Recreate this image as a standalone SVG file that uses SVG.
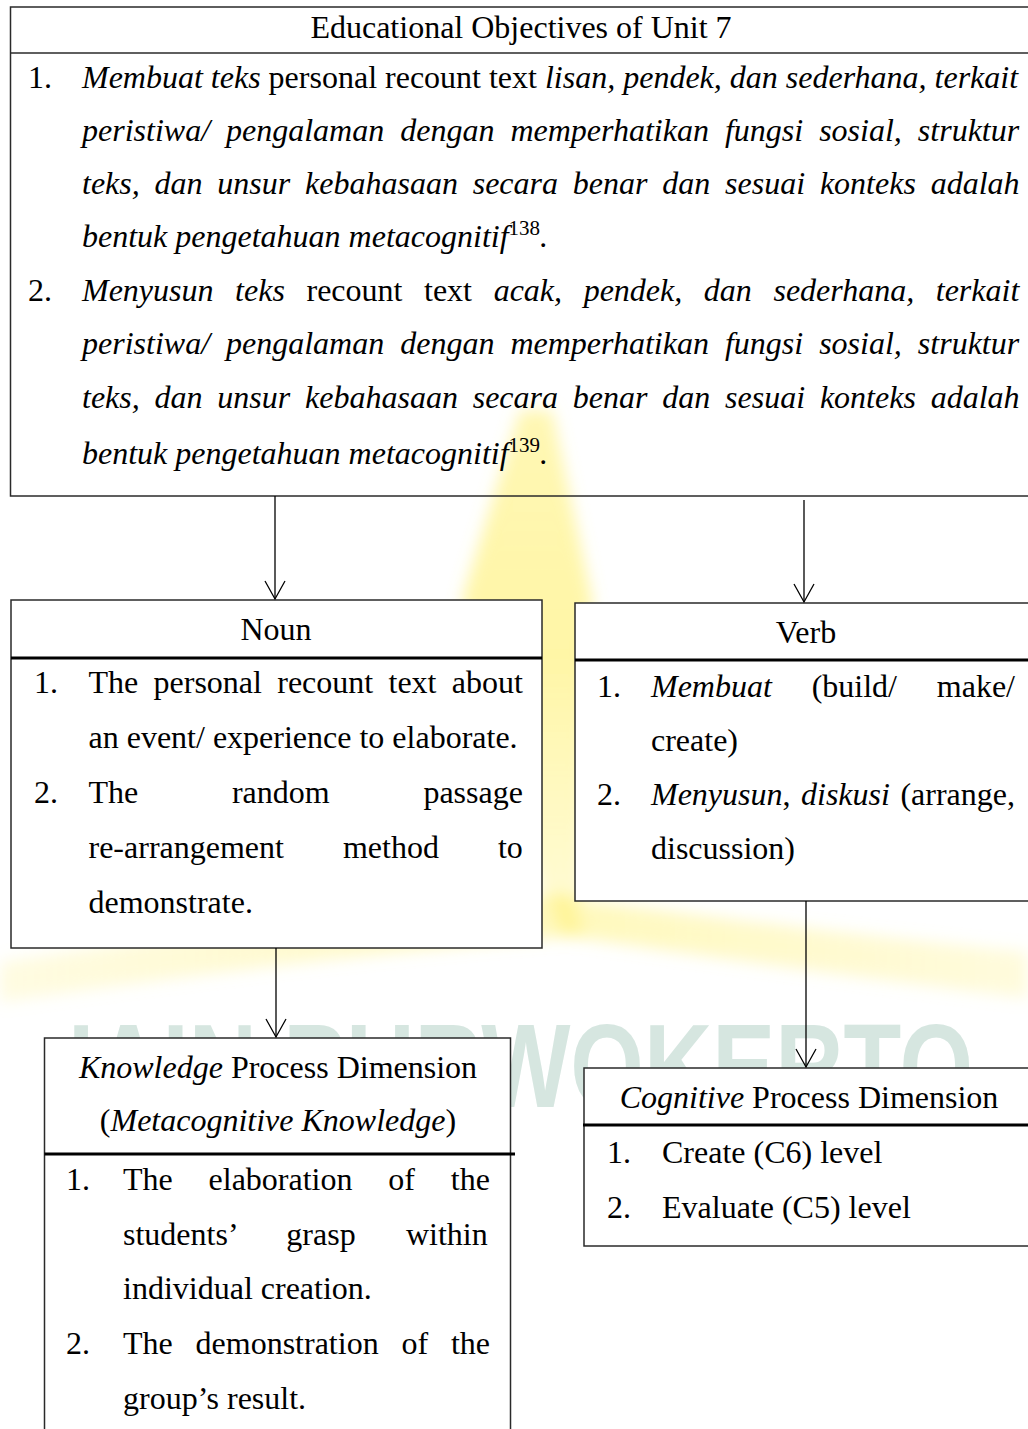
<svg xmlns="http://www.w3.org/2000/svg" width="1028" height="1429" viewBox="0 0 1028 1429">
  <style>
    .t { font-family: "Liberation Serif", "Times New Roman", serif; font-size: 32px; fill: #000; }
    .i { font-style: italic; }
    .c { text-anchor: middle; }
    .sup { font-size: 21px; font-style: normal; }
    .box { stroke: #2a2a2a; stroke-width: 1.5; }
    .thin { stroke: #2a2a2a; stroke-width: 1.3; }
    .thick { stroke: #000; stroke-width: 3; }
    .conn { stroke: #000; stroke-width: 1.3; fill: none; marker-end: url(#open); }
    .wm { font-family: "Liberation Sans", Arial, sans-serif; font-weight: bold; font-size: 118px; fill: #d6e6e0; }
  </style>
  <defs>
    <marker id="open" markerUnits="userSpaceOnUse" markerWidth="24" markerHeight="24" refX="0" refY="0" orient="auto" overflow="visible">
      <path d="M -18,-10 L 0,0 L -18,10" fill="none" stroke="#000" stroke-width="1.3"/>
    </marker>
    <filter id="soft" x="-20%" y="-20%" width="140%" height="140%">
      <feGaussianBlur stdDeviation="8"/>
    </filter>
    <linearGradient id="spike" x1="0" y1="0" x2="0" y2="1">
      <stop offset="0" stop-color="#fff176" stop-opacity="0.55"/>
      <stop offset="0.5" stop-color="#fff06a" stop-opacity="0.6"/>
      <stop offset="1" stop-color="#fff59d" stop-opacity="0.45"/>
    </linearGradient>
    <linearGradient id="armL" x1="0" y1="0" x2="1" y2="0">
      <stop offset="0" stop-color="#fff59d" stop-opacity="0.3"/>
      <stop offset="1" stop-color="#fff176" stop-opacity="0.5"/>
    </linearGradient>
    <linearGradient id="armR" x1="0" y1="0" x2="1" y2="0">
      <stop offset="0" stop-color="#fff176" stop-opacity="0.5"/>
      <stop offset="1" stop-color="#fff59d" stop-opacity="0.35"/>
    </linearGradient>
    <clipPath id="wmclip">
      <rect x="0" y="948" width="1028" height="90"/>
      <rect x="510" y="1000" width="74" height="120"/>
      <rect x="584" y="1000" width="444" height="68"/>
    </clipPath>
  </defs>

  <rect width="1028" height="1429" fill="#fff"/>

  <!-- faint background emblem -->
  <g id="emblem" filter="url(#soft)">
    <polygon points="520,410 552,410 592,600 582,905 545,905 462,600" fill="url(#spike)"/>
    <path d="M 570,895 Q 300,915 0,962 L 0,1002 Q 300,958 585,935 Z" fill="url(#armL)"/>
    <path d="M 550,895 Q 800,930 1028,952 L 1028,998 Q 800,970 560,935 Z" fill="url(#armR)"/>
  </g>
  <text class="wm" x="68" y="1107" textLength="905" lengthAdjust="spacingAndGlyphs" clip-path="url(#wmclip)">IAIN PURWOKERTO</text>

  <!-- top: objectives -->
  <g id="objectives">
    <rect class="box" x="10.5" y="7" width="1040" height="489" fill="none"/>
    <line class="thin" x1="10.5" y1="53" x2="1040" y2="53"/>
    <text class="t c" x="521" y="38">Educational Objectives of Unit 7</text>
    <text class="t" y="88" word-spacing="0"><tspan x="28">1.</tspan><tspan x="82" class="i">Membuat teks</tspan> personal recount text <tspan class="i">lisan, pendek, dan sederhana, terkait</tspan></text>
    <text class="t i" x="82" y="141" word-spacing="8">peristiwa/ pengalaman dengan memperhatikan fungsi sosial, struktur</text>
    <text class="t i" x="82" y="194" word-spacing="6.8">teks, dan unsur kebahasaan secara benar dan sesuai konteks adalah</text>
    <text class="t i" x="82" y="247">bentuk pengetahuan metacognitif<tspan class="sup" dy="-12">138</tspan><tspan dy="12">.</tspan></text>
    <text class="t" y="301" word-spacing="13.6"><tspan x="28">2.</tspan><tspan x="82" class="i">Menyusun teks</tspan> recount text <tspan class="i">acak, pendek, dan sederhana, terkait</tspan></text>
    <text class="t i" x="82" y="354" word-spacing="8">peristiwa/ pengalaman dengan memperhatikan fungsi sosial, struktur</text>
    <text class="t i" x="82" y="408" word-spacing="6.8">teks, dan unsur kebahasaan secara benar dan sesuai konteks adalah</text>
    <text class="t i" x="82" y="464">bentuk pengetahuan metacognitif<tspan class="sup" dy="-12">139</tspan><tspan dy="12">.</tspan></text>
  </g>

  <!-- noun -->
  <g id="noun">
    <rect class="box" x="11" y="600" width="531" height="348" fill="#fff"/>
    <line class="thick" x1="11" y1="658" x2="542" y2="658"/>
    <text class="t c" x="276" y="640">Noun</text>
    <text class="t" y="693" word-spacing="7.3"><tspan x="34">1.</tspan><tspan x="88.5">The personal recount text about</tspan></text>
    <text class="t" x="88.5" y="748">an event/ experience to elaborate.</text>
    <text class="t" y="803" word-spacing="85.7"><tspan x="34">2.</tspan><tspan x="88.5">The random passage</tspan></text>
    <text class="t" x="88.5" y="858" word-spacing="51">re-arrangement method to</text>
    <text class="t" x="88.5" y="913">demonstrate.</text>
  </g>

  <!-- verb -->
  <g id="verb">
    <rect class="box" x="575" y="603" width="470" height="298" fill="#fff"/>
    <line class="thick" x1="575" y1="660" x2="1040" y2="660"/>
    <text class="t c" x="806" y="643">Verb</text>
    <text class="t" y="697" word-spacing="31.8"><tspan x="597">1.</tspan><tspan x="651" class="i">Membuat</tspan> (build/ make/</text>
    <text class="t" x="651" y="751">create)</text>
    <text class="t" y="805" word-spacing="2.5"><tspan x="597">2.</tspan><tspan x="651" class="i">Menyusun</tspan>, <tspan class="i">diskusi</tspan> (arrange,</text>
    <text class="t" x="651" y="859">discussion)</text>
  </g>

  <!-- knowledge dimension -->
  <g id="knowledge">
    <rect class="box" x="44.5" y="1038" width="466" height="420" fill="#fff"/>
    <line class="thick" x1="44.5" y1="1154" x2="515" y2="1154"/>
    <text class="t c" x="278" y="1078"><tspan class="i">Knowledge</tspan> Process Dimension</text>
    <text class="t c" x="278" y="1131">(<tspan class="i">Metacognitive Knowledge</tspan>)</text>
    <text class="t" y="1190" word-spacing="27.8"><tspan x="66">1.</tspan><tspan x="123">The elaboration of the</tspan></text>
    <text class="t" x="123" y="1245" word-spacing="42.2">students’ grasp within</text>
    <text class="t" x="123" y="1299">individual creation.</text>
    <text class="t" y="1354" word-spacing="14.8"><tspan x="66">2.</tspan><tspan x="123">The demonstration of the</tspan></text>
    <text class="t" x="123" y="1409">group’s result.</text>
  </g>

  <!-- cognitive dimension -->
  <g id="cognitive">
    <rect class="box" x="584" y="1068" width="460" height="178" fill="#fff"/>
    <line class="thick" x1="583" y1="1125" x2="1040" y2="1125"/>
    <text class="t c" x="809" y="1108"><tspan class="i">Cognitive</tspan> Process Dimension</text>
    <text class="t" y="1163"><tspan x="607">1.</tspan><tspan x="662">Create (C6) level</tspan></text>
    <text class="t" y="1218"><tspan x="607">2.</tspan><tspan x="662">Evaluate (C5) level</tspan></text>
  </g>

  <!-- connectors -->
  <g id="connectors">
    <line class="conn" x1="275" y1="496" x2="275" y2="599"/>
    <line class="conn" x1="804" y1="500" x2="804" y2="602"/>
    <line class="conn" x1="276" y1="948" x2="276" y2="1037"/>
    <line class="conn" x1="806" y1="901" x2="806" y2="1067"/>
  </g>
</svg>
